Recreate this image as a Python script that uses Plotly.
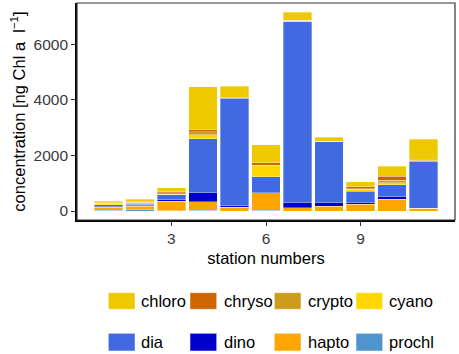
import plotly.graph_objects as go

stations = [1, 2, 3, 4, 5, 6, 7, 8, 9, 10, 11]
chloro = [50, 85, 130, 1535, 420, 650, 290, 140, 180, 360, 730]
chryso = [20, 20, 40, 85, 0, 90, 0, 0, 70, 155, 35]
crypto = [25, 30, 50, 95, 0, 20, 20, 30, 20, 95, 50]
cyano = [40, 45, 30, 145, 20, 400, 0, 0, 70, 60, 0]
dia = [55, 40, 180, 1955, 3865, 565, 6530, 2185, 395, 445, 1680]
dino = [35, 35, 40, 320, 60, 0, 190, 120, 70, 85, 0]
hapto = [100, 110, 350, 300, 130, 630, 120, 180, 250, 420, 95]
prochl = [30, 60, 10, 30, 0, 30, 0, 0, 0, 0, 0]

groups = ["chloro", "chryso", "crypto", "cyano", "dia", "dino", "hapto", "prochl"]
values = {"chloro": chloro, "chryso": chryso, "crypto": crypto, "cyano": cyano,
          "dia": dia, "dino": dino, "hapto": hapto, "prochl": prochl}
colors = {"chloro": "#EEC900", "chryso": "#CD6600", "crypto": "#CD9B1D", "cyano": "#FFD700",
          "dia": "#4169E1", "dino": "#0000CD", "hapto": "#FFA500", "prochl": "#4F94CD"}
xticks = [3, 6, 9]
yticks = [0, 2000, 4000, 6000]

FONT = "Liberation Sans, Arial, sans-serif"
fig = go.Figure()
for g in reversed(groups):
    fig.add_trace(go.Bar(x=stations, y=values[g], name=g,
                         marker=dict(color=colors[g], line=dict(color="rgba(255,255,255,0.55)", width=0.6)),
                         showlegend=False))

L, R, T, B = 77, 4, 3, 134
W, H = 459, 354
pw, ph = W - L - R, H - T - B

def px(x):
    return (x - L) / pw

def py(y):
    return (H - B - y) / ph

shapes = []
annotations = []
key_x = [108.3, 190, 274.3, 356]
text_x = [139.3, 221.7, 306, 387.3]
row_y = [(292.7, 309.3), (333.3, 351)]
for i, g in enumerate(groups):
    r, c = divmod(i, 4)
    y0, y1 = row_y[r]
    shapes.append(dict(type="rect", xref="paper", yref="paper",
                       x0=px(key_x[c]), x1=px(key_x[c] + 26.7), y0=py(y1), y1=py(y0),
                       fillcolor=colors[g], line=dict(color="rgba(255,255,255,0.5)", width=1)))
    annotations.append(dict(xref="paper", yref="paper", x=px(text_x[c]), y=py((y0 + y1) / 2),
                            text=g, showarrow=False, xanchor="left", yanchor="middle",
                            font=dict(family=FONT, size=16.5, color="#000000")))

# panel border
shapes.append(dict(type="rect", xref="paper", yref="paper", x0=0, x1=1, y0=0, y1=1,
                   line=dict(color="#333333", width=1.2), layer="above"))

fig.update_layout(
    width=W, height=H,
    margin=dict(l=L, r=R, t=T, b=B, autoexpand=False),
    paper_bgcolor="white", plot_bgcolor="white",
    barmode="stack", bargap=0.1,
    font=dict(family=FONT, color="#000000"),
    shapes=shapes, annotations=annotations,
    xaxis=dict(range=[0.005, 11.995], tickvals=xticks, ticktext=[str(v) for v in xticks],
               automargin=False,
               showgrid=False, zeroline=False, showline=True, linecolor="#000000", linewidth=1.6,
               ticks="outside", ticklen=4, tickcolor="#333333", tickwidth=1.2,
               tickfont=dict(family=FONT, size=15.5, color="#3A3A3A"),
               title=dict(text="station numbers", font=dict(family=FONT, size=16.5, color="#000000"), standoff=6)),
    yaxis=dict(range=[-324, 7488], tickvals=yticks, ticktext=[str(v) for v in yticks],
               automargin=False,
               showgrid=False, zeroline=False, showline=True, linecolor="#000000", linewidth=1.6,
               ticks="outside", ticklen=4, tickcolor="#333333", tickwidth=1.2,
               tickfont=dict(family=FONT, size=15.5, color="#3A3A3A"),
               title=dict(text="concentration [ng Chl a\u00a0\u00a0l<sup>\u22121</sup>]",
                          font=dict(family=FONT, size=16.5, color="#000000"), standoff=4)),
)

fig.write_html("out.html", config={"displayModeBar": False},
               post_script="document.body.style.margin='0';document.body.style.padding='0';")
